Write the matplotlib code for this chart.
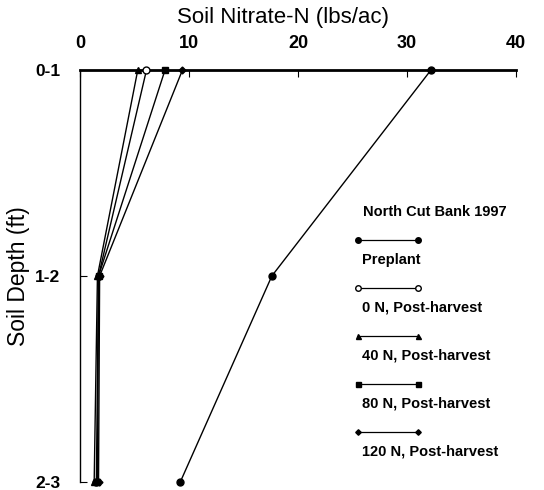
import numpy as np
import matplotlib.pyplot as plt

plt.rcParams['font.family'] = ['Liberation Sans', 'DejaVu Sans']

depths = ["0-1", "1-2", "2-3"]
series_names = ["Preplant", "0 N, Post-harvest", "40 N, Post-harvest",
                "80 N, Post-harvest", "120 N, Post-harvest"]
preplant = [32.2, 17.6, 9.2]
n0_post = [6.1, 1.7, 1.5]
n40_post = [5.3, 1.6, 1.3]
n80_post = [7.8, 1.7, 1.6]
n120_post = [9.4, 1.8, 1.7]
x_ticks = [0, 10, 20, 30, 40]

series = [preplant, n0_post, n40_post, n80_post, n120_post]
styles = [
    dict(marker="o", ms=5, mfc="black"),
    dict(marker="o", ms=5, mfc="white"),
    dict(marker="^", ms=4.5, mfc="black"),
    dict(marker="s", ms=4.5, mfc="black"),
    dict(marker="D", ms=3.5, mfc="black"),
]

fig = plt.figure(figsize=(5.44, 4.9), dpi=100)
ax = fig.add_axes([80 / 544, 1 - 482 / 490, 436 / 544, 412 / 490])

ypos = np.arange(len(depths))
for vals, st in zip(series, styles):
    ax.plot(vals, ypos, color="black", lw=1.0, mec="black", mew=1.0,
            clip_on=False, zorder=3, **st)

ax.set_xlim(0, 40)
ax.set_ylim(2, 0)
ax.xaxis.tick_top()
ax.xaxis.set_label_position("top")
ax.set_xticks(x_ticks)
ax.set_xticklabels([str(t) for t in x_ticks], fontweight="bold", fontsize=13)
ax.set_yticks(ypos)
ax.set_yticklabels(depths, fontweight="bold", fontsize=12.5)
ax.tick_params(axis="x", direction="in", length=5, pad=13)
ax.tick_params(axis="y", direction="in", length=5, pad=14)
ax.set_xlabel("Soil Nitrate-N (lbs/ac)", fontsize=16)
ax.xaxis.set_label_coords(0.465, 1.127)
ax.xaxis.label.set_va("center")
ax.set_ylabel("Soil Depth (ft)", fontsize=16.5)
ax.yaxis.set_label_coords(-0.142, 0.5)
ax.yaxis.label.set_va("center")

for side in ["right", "bottom"]:
    ax.spines[side].set_visible(False)
ax.spines["top"].set_linewidth(2.0)
ax.spines["left"].set_linewidth(1.0)

# hand-drawn style legend: sample line with label underneath
ax.text(0.649, 0.655, "North Cut Bank 1997", transform=ax.transAxes,
        fontsize=10.5, fontweight="bold", va="center", ha="left")
for i, (name, st) in enumerate(zip(series_names, styles)):
    ly = 0.587 - i * 0.1165
    ax.plot([0.638, 0.775], [ly, ly], transform=ax.transAxes, color="black",
            lw=0.9, mec="black", mew=1.0, clip_on=False,
            **dict(st, ms=st["ms"] * 0.8))
    ax.text(0.647, ly - 0.048, name, transform=ax.transAxes, fontsize=10.5,
            fontweight="bold", va="center", ha="left")

fig.savefig("out.png", dpi=100)
